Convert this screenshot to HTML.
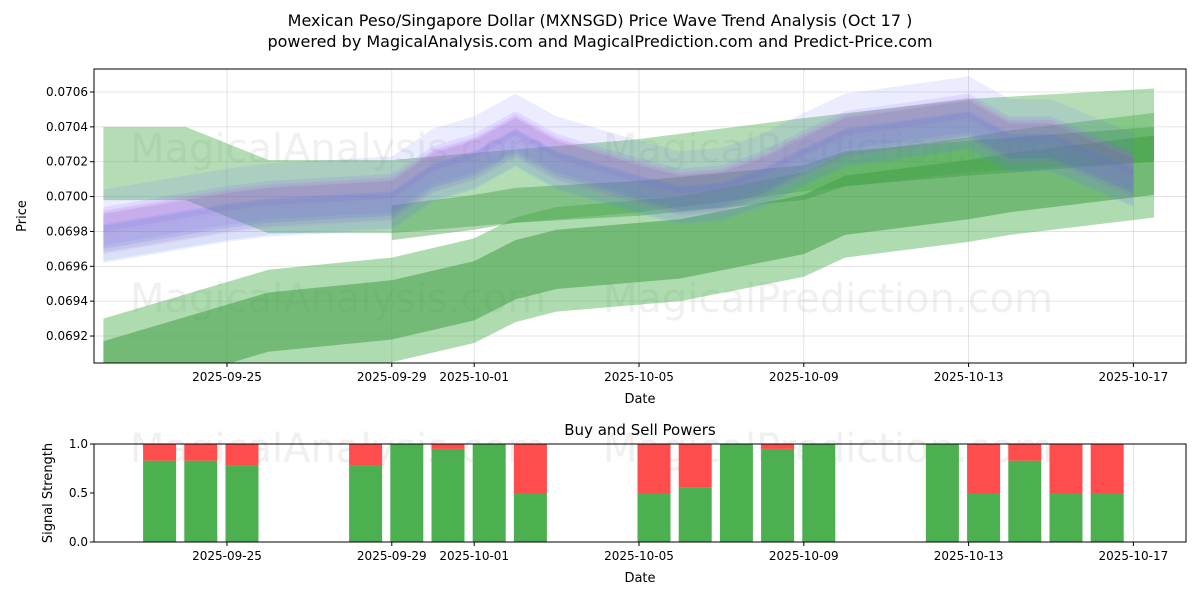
<!DOCTYPE html>
<html><head><meta charset="utf-8"><style>
body{margin:0;background:#fff;font-family:"Liberation Sans","DejaVu Sans",sans-serif}
svg text{font-family:"DejaVu Sans","Liberation Sans",sans-serif}
</style></head><body>
<svg id="c" width="1200" height="600" viewBox="0 0 1200 600">
<text x="600" y="26" text-anchor="middle" font-size="16">Mexican Peso/Singapore Dollar (MXNSGD) Price Wave Trend Analysis (Oct 17 )</text>
<text x="600" y="47" text-anchor="middle" font-size="16">powered by MagicalAnalysis.com and MagicalPrediction.com and Predict-Price.com</text>
<g id="main"></g><g id="sub"></g>
</svg>
<script>
// ---- data ----
const bandUDates=['2025-09-22','2025-09-24','2025-09-26','2025-09-29','2025-10-01','2025-10-05','2025-10-09','2025-10-13','2025-10-17.5'];
const bandUCenter=[0.07019,0.07019,0.07000,0.07000,0.07004,0.07012,0.07024,0.07035,0.07041];
const bandMDates=['2025-09-29','2025-10-01','2025-10-02','2025-10-05','2025-10-09','2025-10-10','2025-10-13','2025-10-17.5'];
const bandMCenter=[0.06985,0.06991,0.06995,0.06999,0.07008,0.07016,0.07022,0.07030];
const bandLDates=['2025-09-22','2025-09-26','2025-09-29','2025-10-01','2025-10-02','2025-10-03','2025-10-06','2025-10-09','2025-10-10','2025-10-13','2025-10-14','2025-10-17.5'];
const bandLCenter=[0.06900,0.06928,0.06935,0.06946,0.06958,0.06964,0.06970,0.06984,0.06995,0.07004,0.07008,0.07018];
const waveDates=['2025-09-22','2025-09-23','2025-09-24','2025-09-25','2025-09-26','2025-09-29','2025-09-30','2025-10-01','2025-10-02','2025-10-03','2025-10-05','2025-10-06','2025-10-07','2025-10-08','2025-10-09','2025-10-10','2025-10-13','2025-10-14','2025-10-15','2025-10-16','2025-10-17'];
const wavePrice=[0.06978,0.06982,0.06986,0.06990,0.06993,0.06997,0.07013,0.07020,0.07033,0.07020,0.07006,0.07000,0.07002,0.07010,0.07022,0.07033,0.07043,0.07030,0.07030,0.07020,0.07010];
const waveOffsets=[0.00008,0.00004,0.00001,-0.00002,-0.00005,0.00014,-0.00008,0.00002];
const waveColors=['#8a5cff','#b04dff','#ff6a8a','#3a6df0','#5a8dd0','#7070ff','#6a7aff','#4060c0'];
const yTicks=[0.0692,0.0694,0.0696,0.0698,0.0700,0.0702,0.0704,0.0706];
const xTickDates=['2025-09-25','2025-09-29','2025-10-01','2025-10-05','2025-10-09','2025-10-13','2025-10-17'];
const barDates=['2025-09-23','2025-09-24','2025-09-25','2025-09-28','2025-09-29','2025-09-30','2025-10-01','2025-10-02','2025-10-05','2025-10-06','2025-10-07','2025-10-08','2025-10-09','2025-10-12','2025-10-13','2025-10-14','2025-10-15','2025-10-16'];
const buyPower=[0.83,0.83,0.78,0.78,1.0,0.95,1.0,0.5,0.5,0.56,1.0,0.95,1.0,1.0,0.5,0.83,0.5,0.5];

// ---- axes ----
const NS='http://www.w3.org/2000/svg';
const L=94,R=1186,T=69,B=363,ST=444,SB=542;
function dnum(s){const p=s.split('-');const day=parseFloat(p[2]);return Date.UTC(+p[0],+p[1]-1,1)/864e5+day-1;}
const d0=dnum('2025-09-25');
const x=d=>227+(dnum(d)-d0)*41.2;
const y=v=>92+(0.0706-v)/0.0002*34.86;
const ys=v=>SB-v*(SB-ST);
function mk(tag,attrs,parent){const e=document.createElementNS(NS,tag);for(const k in attrs)e.setAttribute(k,attrs[k]);parent.appendChild(e);return e;}
const main=document.getElementById('main'),sub=document.getElementById('sub');
const cp=mk('clipPath',{id:'cp'},main);
mk('rect',{x:L,y:T,width:R-L,height:B-T},cp);
yTicks.forEach(v=>{const g=mk('line',{x1:L,x2:R,y1:y(v),y2:y(v),stroke:'#ddd','stroke-width':0.8},main);

const t=mk('text',{x:L-6,y:y(v)+4,'text-anchor':'end','font-size':12},main);t.textContent=v.toFixed(4);

mk('line',{x1:L-4,x2:L,y1:y(v),y2:y(v),stroke:'#000'},main);});
xTickDates.forEach(d=>{const xx=x(d);mk('line',{x1:xx,x2:xx,y1:T,y2:B,stroke:'#ddd','stroke-width':0.8},main);
mk('line',{x1:xx,x2:xx,y1:B,y2:B+4,stroke:'#000'},main);
const t=mk('text',{x:xx,y:B+18,'text-anchor':'middle','font-size':12},main);t.textContent=d;

mk('line',{x1:xx,x2:xx,y1:ST,y2:SB,stroke:'#ddd','stroke-width':0.8},sub);
mk('line',{x1:xx,x2:xx,y1:SB,y2:SB+4,stroke:'#000'},sub);
const t2=mk('text',{x:xx,y:SB+18,'text-anchor':'middle','font-size':12},sub);t2.textContent=d;
});
const plot=mk('g',{'clip-path':'url(#cp)'},main);
[['MagicalAnalysis.com',130,162],['MagicalPrediction.com',603,162],['MagicalAnalysis.com',130,312],['MagicalPrediction.com',603,312]].forEach(w=>{
const t=mk('text',{x:w[1],y:w[2],'font-size':40,fill:'#888','fill-opacity':0.13},plot);t.textContent=w[0];
});
function band(dates,center,half,fill,op,name){
let top=dates.map((d,i)=>x(d)+','+y(center[i]+half)),bot=dates.map((d,i)=>x(d)+','+y(center[i]-half)).reverse();
const p=mk('polygon',{points:top.concat(bot).join(' '),fill:fill,'fill-opacity':op},plot);
}
band(bandLDates,bandLCenter,0.0003,'#4caf50',0.45,'lower-trend-outer');
band(bandLDates,bandLCenter,0.00017,'#3a9a3e',0.5,'lower-trend-inner');
band(bandUDates,bandUCenter,0.00021,'#4caf50',0.42,'upper-trend-outer');
band(bandMDates,bandMCenter,0.0001,'#3a9a3e',0.4,'middle-trend-inner');
waveOffsets.forEach((o,k)=>{const c=wavePrice.map(v=>v+o);
band(waveDates,c,0.00008+0.00002*(k%3),waveColors[k],0.13,'wave-band');});
mk('rect',{x:L,y:T,width:R-L,height:B-T,fill:'none',stroke:'#000','stroke-width':1},main);
let t=mk('text',{x:640,y:403,'text-anchor':'middle','font-size':13},main);t.textContent='Date';

t=mk('text',{x:26,y:216,'text-anchor':'middle','font-size':13,transform:'rotate(-90 26 216)'},main);t.textContent='Price';

[0,0.5,1].forEach(v=>{mk('line',{x1:L-4,x2:L,y1:ys(v),y2:ys(v),stroke:'#000'},sub);
const tt=mk('text',{x:L-6,y:ys(v)+4,'text-anchor':'end','font-size':12},sub);tt.textContent=v.toFixed(1);
});
[['MagicalAnalysis.com',130,462],['MagicalPrediction.com',603,462]].forEach(w=>{
const tt=mk('text',{x:w[1],y:w[2],'font-size':40,fill:'#888','fill-opacity':0.13},sub);tt.textContent=w[0];
});
barDates.forEach((d,i)=>{const cx=x(d)+15,w=33;
const g=mk('rect',{x:cx-w/2,y:ys(buyPower[i]),width:w,height:SB-ys(buyPower[i]),fill:'#4caf50'},sub);

const r=mk('rect',{x:cx-w/2,y:ST,width:w,height:ys(buyPower[i])-ST,fill:'#ff4d4d'},sub);
});
mk('rect',{x:L,y:ST,width:R-L,height:SB-ST,fill:'none',stroke:'#000','stroke-width':1},sub);
t=mk('text',{x:640,y:435,'text-anchor':'middle','font-size':15},sub);t.textContent='Buy and Sell Powers';

t=mk('text',{x:640,y:582,'text-anchor':'middle','font-size':13},sub);t.textContent='Date';

t=mk('text',{x:52,y:493,'text-anchor':'middle','font-size':13,transform:'rotate(-90 52 493)'},sub);t.textContent='Signal Strength';

</script>
</body></html>
